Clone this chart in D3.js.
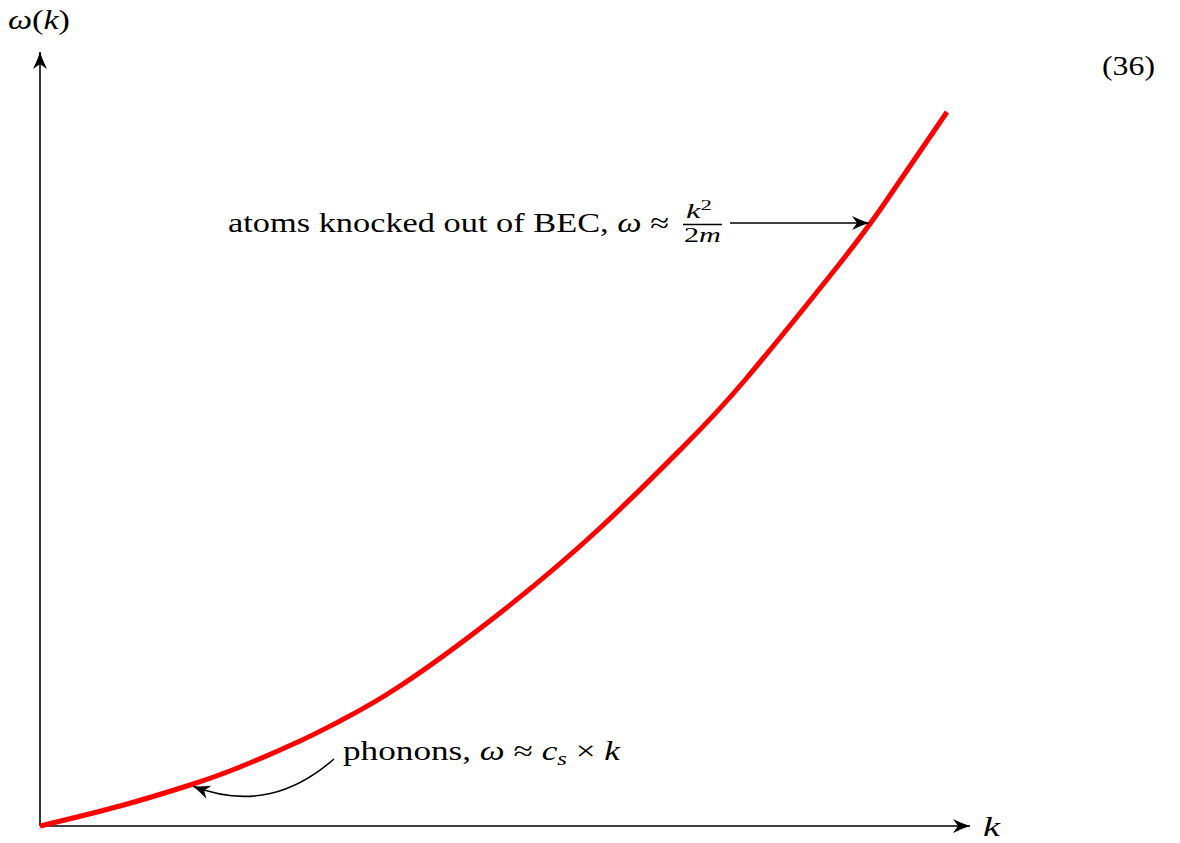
<!DOCTYPE html>
<html>
<head>
<meta charset="utf-8">
<script src="https://cdn.jsdelivr.net/npm/d3@7"></script>
<style>
  body { margin: 0; background: #fff; }
  svg text { font-family: "Liberation Serif", "DejaVu Serif", serif; fill: #000; }
</style>
</head>
<body>
<div id="chart"></div>
<script>
// Dispersion curve (arbitrary units)
var kVals     = [0, 80, 150, 200, 260, 300, 360, 460, 560, 643, 705, 797, 842, 907];
var omegaVals = [0, 20,  41,  59,  85, 105, 140, 213, 298, 379, 446, 559, 619, 714];

// Axis labels and annotations
var xLabel = "k";
var yLabel = "ω(k)";
var eqNumber = "(36)";
var kHigh = 830;      // where the "atoms" arrow meets the curve
var kLow  = 152;      // where the "phonons" arrow meets the curve

var width = 1180, height = 843;

var svg = d3.select("#chart").append("svg")
    .attr("width", width)
    .attr("height", height);

// Scales (origin of the axes at 40, 826)
var x = d3.scaleLinear().domain([0, 930]).range([40, 970]);
var y = d3.scaleLinear().domain([0, 774]).range([826, 52]);

var curveData = kVals.map(function(k, i) { return {k: k, w: omegaVals[i]}; });
var line = d3.line()
    .x(function(d) { return x(d.k); })
    .y(function(d) { return y(d.w); })
    .curve(d3.curveNatural);

// Interpolate omega at given k along the same data (for arrow tips)
function omegaAt(k) {
  for (var i = 1; i < kVals.length; i++) {
    if (k <= kVals[i]) {
      var t = (k - kVals[i-1]) / (kVals[i] - kVals[i-1]);
      return omegaVals[i-1] + t * (omegaVals[i] - omegaVals[i-1]);
    }
  }
  return omegaVals[omegaVals.length - 1];
}

// stealth-like arrow head
var defs = svg.append("defs");
defs.append("marker")
    .attr("id", "arrow")
    .attr("viewBox", "-18 -8 19 16")
    .attr("refX", 0).attr("refY", 0)
    .attr("markerUnits", "userSpaceOnUse")
    .attr("markerWidth", 19).attr("markerHeight", 16)
    .attr("orient", "auto")
  .append("path")
    .attr("d", "M0,0 Q-8,-2.5 -17,-7 L-12,0 L-17,7 Q-8,2.5 0,0 Z")
    .attr("fill", "#000");

// Axes
svg.append("line")
    .attr("x1", x(0)).attr("y1", y(0))
    .attr("x2", x(930)).attr("y2", y(0))
    .attr("stroke", "#000").attr("stroke-width", 1.6)
    .attr("marker-end", "url(#arrow)");
svg.append("line")
    .attr("x1", x(0)).attr("y1", y(0))
    .attr("x2", x(0)).attr("y2", y(774))
    .attr("stroke", "#000").attr("stroke-width", 1.6)
    .attr("marker-end", "url(#arrow)");

// Curve
svg.append("path")
    .datum(curveData)
    .attr("d", line)
    .attr("fill", "none")
    .attr("stroke", "#ff0000")
    .attr("stroke-width", 5)
    .attr("stroke-linecap", "butt");

// Axis labels
svg.append("text")
    .attr("x", 983).attr("y", 836)
    .attr("font-size", 28).attr("font-style", "italic")
    .attr("textLength", 17).attr("lengthAdjust", "spacingAndGlyphs")
    .text(xLabel);

var yl = svg.append("text").attr("x", 8).attr("y", 29).attr("font-size", 27)
    .attr("textLength", 62).attr("lengthAdjust", "spacingAndGlyphs");
yl.append("tspan").attr("font-style", "italic").text("ω");
yl.append("tspan").text("(");
yl.append("tspan").attr("font-style", "italic").text("k");
yl.append("tspan").text(")");

svg.append("text")
    .attr("x", 1102).attr("y", 75)
    .attr("font-size", 27)
    .attr("textLength", 53).attr("lengthAdjust", "spacingAndGlyphs")
    .text(eqNumber);

// High-k annotation
var hiY = y(omegaAt(kHigh));
var t1 = svg.append("text").attr("x", 228).attr("y", hiY + 9).attr("font-size", 27)
    .attr("textLength", 441).attr("lengthAdjust", "spacingAndGlyphs");
t1.append("tspan").text("atoms knocked out of BEC, ");
t1.append("tspan").attr("font-style", "italic").text("ω");
t1.append("tspan").text(" ≈");
svg.append("text").attr("x", 686).attr("y", hiY - 5)
    .attr("font-size", 20)
    .attr("textLength", 26).attr("lengthAdjust", "spacingAndGlyphs")
  .call(function(s) {
    s.append("tspan").attr("font-style", "italic").text("k");
    s.append("tspan").attr("font-size", 14).attr("dy", -8).text("2");
  });
svg.append("line")
    .attr("x1", 683).attr("x2", 722)
    .attr("y1", hiY + 1.5).attr("y2", hiY + 1.5)
    .attr("stroke", "#000").attr("stroke-width", 1.5);
svg.append("text").attr("x", 684).attr("y", hiY + 19)
    .attr("font-size", 20)
    .attr("textLength", 37).attr("lengthAdjust", "spacingAndGlyphs")
  .call(function(s) {
    s.append("tspan").text("2");
    s.append("tspan").attr("font-style", "italic").text("m");
  });
svg.append("line")
    .attr("x1", 730).attr("y1", hiY)
    .attr("x2", x(kHigh) - 1).attr("y2", hiY)
    .attr("stroke", "#000").attr("stroke-width", 1.6)
    .attr("marker-end", "url(#arrow)");

// Low-k annotation
var t2 = svg.append("text").attr("x", 343).attr("y", 760).attr("font-size", 27)
    .attr("textLength", 277).attr("lengthAdjust", "spacingAndGlyphs");
t2.append("tspan").text("phonons, ");
t2.append("tspan").attr("font-style", "italic").text("ω");
t2.append("tspan").text(" ≈ ");
t2.append("tspan").attr("font-style", "italic").text("c");
t2.append("tspan").attr("font-style", "italic").attr("font-size", 19).attr("dy", 5).text("s");
t2.append("tspan").attr("dy", -5).text(" × ");
t2.append("tspan").attr("font-style", "italic").text("k");

var tipX = x(kLow) + 1, tipY = y(omegaAt(kLow)) + 2;
var p = d3.path();
p.moveTo(334, 759);
p.bezierCurveTo(295, 793, 250, 808, tipX, tipY);
svg.append("path")
    .attr("d", p.toString())
    .attr("fill", "none")
    .attr("stroke", "#000").attr("stroke-width", 1.6)
    .attr("marker-end", "url(#arrow)");
</script>
</body>
</html>
